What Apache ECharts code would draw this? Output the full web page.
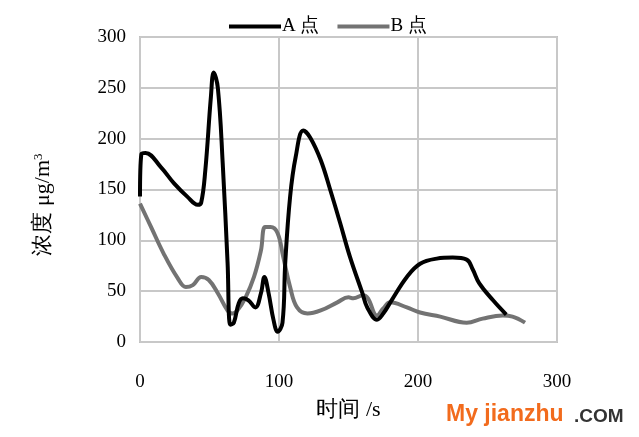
<!DOCTYPE html>
<html><head><meta charset="utf-8">
<script src="https://cdn.jsdelivr.net/npm/echarts@6/dist/echarts.min.js"></script>
<style>html,body{margin:0;padding:0;background:#fff}#c{width:639px;height:437px}</style>
</head><body><div id="c"></div>
<script>
const seriesNames = ['A 点', 'B 点'];
const xTicks = [0, 100, 200, 300];
const yTicks = [0, 50, 100, 150, 200, 250, 300];
const timeA = [0, 1, 4, 15, 24.5, 34, 41.5, 44, 47, 51, 53, 56, 59.5, 63, 65, 67.5, 71, 74, 78, 83, 87, 89.5, 92.5, 96, 99, 102.5, 104.5, 108, 112, 117.5, 122.5, 130, 137, 144, 151, 160, 163.5, 170.5, 175, 181, 192, 201.5, 213.5, 225, 235, 239.5, 244, 254, 263.5];
const valA  = [143, 185, 186, 172, 156, 143, 135, 137, 169, 241, 265, 250, 176, 78, 17, 19, 38, 43, 41, 34, 48, 64, 48, 22, 10, 19, 78, 143, 182, 208, 201, 179, 149, 117, 84, 48, 34, 22, 28, 41, 64, 77, 82, 83, 81, 71, 58, 41, 27];
const timeB = [0, 8, 17, 27, 33, 38, 44, 49.5, 56, 63, 66.5, 70, 76, 82, 87, 90, 94, 99, 103, 108, 113, 120.5, 130, 142, 150, 153.5, 160.5, 164, 170.5, 175, 180, 192, 201.5, 216, 235, 246.5, 261, 268, 277];
const valB  = [136, 113, 87, 63, 54, 56, 64, 61, 48, 31, 28, 31, 44, 64, 90, 113, 113, 107, 84, 54, 34, 28, 31, 39, 44, 43, 46, 43, 26, 33, 39, 34, 29, 25, 19, 23, 26, 25, 19];

const pairs = (xs, ys) => xs.map((x, i) => [x, ys[i]]);
const font = '"Liberation Serif", "Times New Roman", serif';
const chart = echarts.init(document.getElementById('c'), null, {renderer: 'canvas'});
chart.setOption({
  animation: false,
  backgroundColor: '#fff',
  grid: {left: 140, right: 82, top: 37, bottom: 95, show: true, borderColor: '#c0c0c0', borderWidth: 2},
  legend: {
    top: 12, left: 224, itemWidth: 52, itemHeight: 4, itemGap: 18,
    textStyle: {fontFamily: font, fontSize: 19, color: '#000', padding: [0, 0, 0, -4]},
    data: seriesNames.map(n => ({name: n, icon: 'rect'}))
  },
  xAxis: {
    type: 'value', min: xTicks[0], max: xTicks[xTicks.length - 1], interval: 100,
    name: '时间 /s', nameLocation: 'middle', nameGap: 57,
    nameTextStyle: {fontFamily: font, fontSize: 22, color: '#000'},
    axisLine: {show: false}, axisTick: {show: false},
    axisLabel: {fontFamily: font, fontSize: 19, color: '#000', margin: 31},
    splitLine: {show: true, lineStyle: {color: '#c8c8c8', width: 2}}
  },
  yAxis: {
    type: 'value', min: yTicks[0], max: yTicks[yTicks.length - 1], interval: 50,
    name: '浓度 μg/m{sup|3}', nameLocation: 'middle', nameGap: 86, nameRotate: 90,
    nameTextStyle: {fontFamily: font, fontSize: 22, color: '#000', padding: [0, 30, 0, 0],
      rich: {sup: {fontFamily: font, fontSize: 13, color: '#000', verticalAlign: 'top', padding: [0, 0, 9, 0]}}},
    axisLine: {show: false}, axisTick: {show: false},
    axisLabel: {fontFamily: font, fontSize: 19, color: '#000', margin: 14},
    splitLine: {show: true, lineStyle: {color: '#c8c8c8', width: 2}}
  },
  series: [
    {name: seriesNames[0], type: 'line', data: pairs(timeA, valA), smooth: 0.4, showSymbol: false,
     lineStyle: {color: '#000', width: 4}, itemStyle: {color: '#000'}, z: 3},
    {name: seriesNames[1], type: 'line', data: pairs(timeB, valB), smooth: 0.4, showSymbol: false,
     lineStyle: {color: '#737373', width: 4}, itemStyle: {color: '#737373'}, z: 2}
  ],
  graphic: [
    {type: 'text', left: 446, top: 403, style: {text: 'My jianzhu', fontFamily: 'Arial, "Liberation Sans", sans-serif', fontWeight: 'bold', fontSize: 23, fill: '#f26b1d'}},
    {type: 'text', left: 574, top: 407, style: {text: '.COM', fontFamily: 'Arial, "Liberation Sans", sans-serif', fontWeight: 'bold', fontSize: 19, fill: '#333'}}
  ]
});
</script></body></html>
